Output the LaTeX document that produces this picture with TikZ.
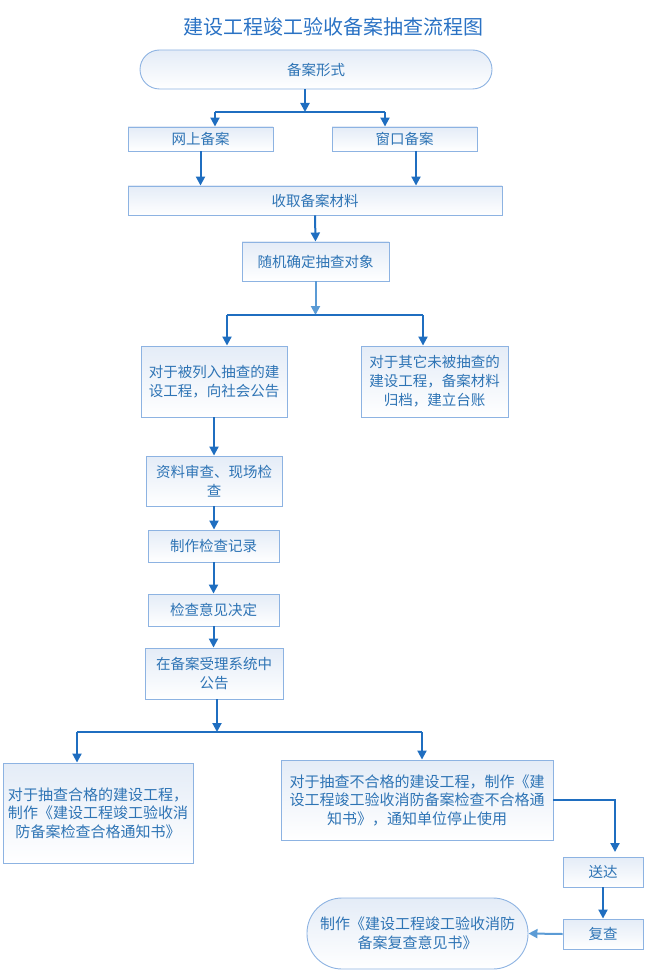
\documentclass[tikz,border=0pt]{standalone}
\usepackage{fontspec}
\usetikzlibrary{arrows.meta}
\newfontfamily\cjk{Noto Sans CJK SC}
\definecolor{flowblue}{HTML}{1F6EC0}
\definecolor{lightflow}{HTML}{5B9BD5}
\definecolor{boxline}{HTML}{8DB3E2}
\definecolor{boxtext}{HTML}{2E74B5}
\definecolor{boxtop}{HTML}{E4ECF7}
\definecolor{titleblue}{HTML}{2A72C4}

\begin{document}
\begin{tikzpicture}[x=1pt,y=-1pt,
  box/.style={draw=boxline, line width=0.9pt, top color=boxtop, bottom color=white,
    text=boxtext, inner sep=0pt, align=center,
    font=\cjk\fontsize{14.5}{19}\selectfont},
  pill/.style={box, rounded corners=#1},
  bigbox/.style={box, font=\cjk\fontsize{15}{18.5}\selectfont},
  flow/.style={draw=flowblue, line width=2pt, -{Triangle[length=9pt,width=9pt]}},
  lightarrow/.style={flow, draw=lightflow, fill=lightflow},
  branch/.style={draw=flowblue, line width=2pt}]
\useasboundingbox (0,0) rectangle (654,973);

\node[text=titleblue, font=\cjk\fontsize{20}{24}\selectfont] (title) at (333,27) {建设工程竣工验收备案抽查流程图};

% top part
\node[pill=19.5pt, minimum width=352pt, minimum height=39pt] (form) at (316,69.5) {备案形式};
\node[box, minimum width=145pt, minimum height=24pt] (online) at (200.5,139) {网上备案};
\node[box, minimum width=145pt, minimum height=24pt] (window) at (404.5,139) {窗口备案};
\node[box, minimum width=374pt, minimum height=29pt] (collect) at (315,200.5) {收取备案材料};
\node[box, minimum width=147pt, minimum height=39pt] (random) at (315.5,261.5) {随机确定抽查对象};

\coordinate (splitA) at (305,112);
\coordinate (splitAl) at (215,112);
\coordinate (splitAr) at (385,112);
\draw[flow] (form.south -| splitA) -- (splitA);
\draw[branch] (splitAl) -- (splitAr);
\draw[flow] (splitAl) -- (splitAl |- online.north);
\draw[flow] (splitAr) -- (splitAr |- window.north);
\draw[flow] (online.south) -- (online.south |- collect.north);
\coordinate (winout) at (416,151);
\draw[flow] (winout) -- (winout |- collect.north);
\draw[flow] (collect.south) -- (random.north);

% selection
\node[box, minimum width=146pt, minimum height=71pt] (listed) at (214,381.5) {对于被列入抽查的建\\设工程，向社会公告};
\node[box, minimum width=147pt, minimum height=71pt] (others) at (434.5,381.5) {对于其它未被抽查的\\建设工程，备案材料\\归档，建立台账};

\coordinate (splitB) at (315.5,315);
\coordinate (splitBl) at (227,315);
\coordinate (splitBr) at (423,315);
\draw[lightarrow] (random.south) -- (splitB);
\draw[branch] (splitBl) -- (splitBr);
\draw[flow] (splitBl) -- (splitBl |- listed.north);
\draw[flow] (splitBr) -- (splitBr |- others.north);

% checking chain
\node[box, minimum width=136pt, minimum height=50pt] (review) at (214,481) {资料审查、现场检\\查};
\node[box, minimum width=131pt, minimum height=32pt] (record) at (213.5,546) {制作检查记录};
\node[box, minimum width=131pt, minimum height=32pt] (decide) at (213.5,610) {检查意见决定};
\node[box, minimum width=138pt, minimum height=51pt] (publish) at (214,673.5) {在备案受理系统中\\公告};

\foreach \a/\b in {listed/review, review/record, record/decide, decide/publish}
  \draw[flow] (\a.south) -- (\a.south |- \b.north);

% result
\node[bigbox, minimum width=190pt, minimum height=100pt] (pass) at (98,813) {对于抽查合格的建设工程，\\制作《建设工程竣工验收消\\防备案检查合格通知书》};
\node[bigbox, minimum width=272pt, minimum height=80pt] (fail) at (417,800) {对于抽查不合格的建设工程，制作《建\\设工程竣工验收消防备案检查不合格通\\知书》，通知单位停止使用};
\node[box, minimum width=80pt, minimum height=30pt] (deliver) at (603,872) {送达};
\node[box, minimum width=80pt, minimum height=30pt] (recheck) at (603,934) {复查};
\node[pill=35pt, font=\cjk\fontsize{15}{19}\selectfont, minimum width=221pt, minimum height=71pt] (opinion) at (417.5,933.5) {制作《建设工程竣工验收消防\\备案复查意见书》};

\coordinate (splitC) at (217,732);
\coordinate (splitCl) at (77,732);
\coordinate (splitCr) at (422,732);
\draw[flow] (publish.south -| splitC) -- (splitC);
\draw[branch] (splitCl) -- (splitCr);
\draw[flow] (splitCl) -- (splitCl |- pass.north);
\draw[flow] (splitCr) -- (splitCr |- fail.north);
\coordinate (turn) at (615,852);
\draw[flow] (fail.east) -| (turn);
\draw[flow] (deliver.south) -- (recheck.north);
\draw[lightarrow] (recheck.west) -- (opinion.east);
\end{tikzpicture}
\end{document}
